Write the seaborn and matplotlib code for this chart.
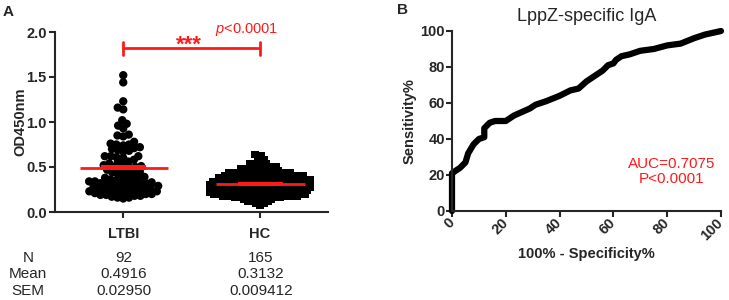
import numpy as np
import pandas as pd
import seaborn as sns
import matplotlib.pyplot as plt

# ---- data ----
groups = ['LTBI', 'HC']
ltbi = [1.52, 1.44, 1.23, 1.16, 1.14, 1.02, 0.98, 0.96, 0.93, 0.86,
        0.85, 0.84, 0.78, 0.76, 0.75, 0.75, 0.74, 0.72, 0.71, 0.70,
        0.69, 0.68, 0.67, 0.62, 0.61, 0.60, 0.58, 0.56, 0.62, 0.62,
        0.55, 0.54, 0.53, 0.52, 0.51, 0.50, 0.50, 0.49, 0.48, 0.47,
        0.46, 0.45, 0.44, 0.43, 0.42, 0.41, 0.40, 0.39, 0.38, 0.37,
        0.36, 0.36, 0.35, 0.35, 0.34, 0.34, 0.33, 0.33, 0.32, 0.32,
        0.31, 0.31, 0.30, 0.30, 0.29, 0.29, 0.28, 0.28, 0.27, 0.27,
        0.26, 0.26, 0.25, 0.25, 0.24, 0.24, 0.23, 0.23, 0.22, 0.22,
        0.21, 0.21, 0.20, 0.20, 0.19, 0.19, 0.18, 0.18, 0.17, 0.16,
        0.16, 0.15]
hc = [0.08,
      0.10, 0.10,
      0.12, 0.12, 0.12,
      0.14, 0.14, 0.14,
      0.16, 0.16, 0.16, 0.16, 0.16, 0.16, 0.16,
      0.18, 0.18, 0.18, 0.18, 0.18, 0.18, 0.18, 0.18, 0.18,
      0.20, 0.20, 0.20, 0.20, 0.20, 0.20, 0.20, 0.20, 0.20, 0.20,
      0.22, 0.22, 0.22, 0.22, 0.22, 0.22, 0.22, 0.22, 0.22, 0.22,
      0.24, 0.24, 0.24, 0.24, 0.24, 0.24, 0.24, 0.24, 0.24, 0.24,
      0.26, 0.26, 0.26, 0.26, 0.26, 0.26, 0.26, 0.26, 0.26, 0.26,
      0.28, 0.28, 0.28, 0.28, 0.28, 0.28, 0.28, 0.28, 0.28, 0.28,
      0.30, 0.30, 0.30, 0.30, 0.30, 0.30, 0.30, 0.30, 0.30, 0.30,
      0.32, 0.32, 0.32, 0.32, 0.32, 0.32, 0.32, 0.32, 0.32, 0.32,
      0.34, 0.34, 0.34, 0.34, 0.34, 0.34, 0.34, 0.34, 0.34, 0.34,
      0.36, 0.36, 0.36, 0.36, 0.36, 0.36, 0.36, 0.36, 0.36,
      0.38, 0.38, 0.38, 0.38, 0.38, 0.38, 0.38, 0.38, 0.38,
      0.40, 0.40, 0.40, 0.40, 0.40, 0.40, 0.40, 0.40,
      0.42, 0.42, 0.42, 0.42, 0.42, 0.42, 0.42,
      0.44, 0.44, 0.44, 0.44, 0.44, 0.44,
      0.46, 0.46, 0.46, 0.46, 0.46,
      0.48, 0.48, 0.48, 0.48,
      0.50, 0.50, 0.50,
      0.52, 0.52,
      0.54, 0.54,
      0.56, 0.58, 0.60, 0.62, 0.64]
n_vals = ['92', '165']
mean_vals = [0.4916, 0.3132]
mean_txt = ['0.4916', '0.3132']
sem_vals = [0.02950, 0.009412]
sem_txt = ['0.02950', '0.009412']

# ROC curve points (100% - specificity, sensitivity)
fpr = [0, 0, 1, 3, 5, 6, 8, 10, 12, 12, 14, 16, 20, 23, 26, 29, 31, 35, 40, 44,
       47, 50, 53, 56, 58, 60, 61, 63, 66, 70, 75, 80, 85, 90, 94, 97, 100]
tpr = [0, 21, 22, 24, 27, 32, 37, 40, 41, 46, 49, 50, 50, 53, 55, 57, 59, 61, 64, 67,
       68, 72, 75, 78, 81, 82, 84, 86, 87, 89, 90, 92, 93, 96, 98, 99, 100]

sns.set_style('ticks')
plt.rcParams['font.family'] = ['Liberation Sans', 'DejaVu Sans']
plt.rcParams['mathtext.fontset'] = 'custom'
plt.rcParams['mathtext.it'] = 'Liberation Sans:italic'
plt.rcParams['mathtext.rm'] = 'Liberation Sans'
RED = '#ff1a1a'

df = pd.DataFrame({'group': ['LTBI'] * len(ltbi) + ['HC'] * len(hc),
                   'od': ltbi + hc})

fig = plt.figure(figsize=(7.29, 3.0), dpi=100)

def px(x, y, w, h):
    return [x / 729, 1 - (y + h) / 300, w / 729, h / 300]

# ---- panel A ----
axA = fig.add_axes(px(55, 32, 273, 180))
axA.set_xlim(-0.5, 1.5)
axA.set_ylim(0, 2.0)
sns.swarmplot(data=df[df.group == 'LTBI'], x='group', y='od', order=groups,
              marker='o', color='black', size=4.0, linewidth=0, ax=axA)
sns.swarmplot(data=df[df.group == 'HC'], x='group', y='od', order=groups,
              marker='s', color='black', size=3.0, linewidth=0, ax=axA)
axA.set_xlim(-0.5, 1.5)
axA.set_ylim(0, 2.0)
# lay the swarm out with small markers, then freeze it and enlarge the markers
fig.canvas.draw()
for coll in axA.collections:
    n = len(coll.get_offsets())
    if n < 2:
        continue
    coll.__dict__.pop('draw', None)
    big = 6.0 if n == len(ltbi) else 5.6
    coll.set_sizes(np.full(n, big ** 2))

for i in range(2):
    half = max(sem_vals[i], 0.02)
    axA.hlines(mean_vals[i], i - 0.32, i + 0.33, color=RED, lw=2, zorder=5)
    axA.fill_between([i - 0.16, i + 0.17], mean_vals[i] - half,
                     mean_vals[i] + half, color=RED, lw=0, zorder=6)
axA.set_yticks([0, 0.5, 1.0, 1.5, 2.0])
axA.set_yticklabels(['0.0', '0.5', '1.0', '1.5', '2.0'])
axA.set_xlabel('')
axA.set_ylabel('OD450nm', fontsize=10.5, fontweight='bold', labelpad=-1)
axA.tick_params(labelsize=10.5, width=1.5, length=4, pad=2)
axA.tick_params(axis='x', pad=7)
for lab in axA.get_xticklabels() + axA.get_yticklabels():
    lab.set_fontweight('bold')
for s in ['left', 'bottom']:
    axA.spines[s].set_linewidth(1.5)
sns.despine(ax=axA)

# significance bracket
axA.plot([0, 1], [1.82, 1.82], color=RED, lw=2)
axA.plot([0, 0], [1.75, 1.89], color=RED, lw=2)
axA.plot([1, 1], [1.75, 1.89], color=RED, lw=2)
axA.text(0.48, 1.74, '***', color=RED, fontsize=16, fontweight='bold',
         ha='center', va='bottom')
axA.text(0.9, 1.93, r'$\it{p}$<0.0001', color=RED, fontsize=10.5,
         ha='center', va='bottom')

# stats table
rows = [('N', n_vals), ('Mean', mean_txt), ('SEM', sem_txt)]
for k, (name, vals) in enumerate(rows):
    y = 1 - (258 + 16.5 * k) / 300
    fig.text(28 / 729, y, name, fontsize=11, ha='center', va='center')
    for xpx, v in zip([124, 261], vals):
        fig.text(xpx / 729, y, v, fontsize=11, ha='center', va='center')

fig.text(3 / 729, 1 - 12 / 300, 'A', fontsize=11, fontweight='bold', va='center')
fig.text(397 / 729, 1 - 10 / 300, 'B', fontsize=11, fontweight='bold', va='center')

# ---- panel B ----
axB = fig.add_axes(px(452, 31, 269, 180))
roc = pd.DataFrame({'fpr': fpr, 'tpr': tpr})
sns.lineplot(data=roc, x='fpr', y='tpr', estimator=None, sort=False,
             color='black', lw=4.5, ax=axB, solid_capstyle='round',
             solid_joinstyle='round', clip_on=False)
axB.set_xlim(0, 100)
axB.set_ylim(0, 100)
axB.set_xticks([0, 20, 40, 60, 80, 100])
axB.set_yticks([0, 20, 40, 60, 80, 100])
axB.set_xlabel('100% - Specificity%', fontsize=10.5, fontweight='bold', labelpad=3)
axB.set_ylabel('Sensitivity%', fontsize=10.5, fontweight='bold', labelpad=3)
axB.set_title('LppZ-specific IgA', fontsize=13, pad=7)
axB.tick_params(labelsize=10.5, width=1.5, length=4, pad=1)
axB.tick_params(axis='x', pad=3)
plt.setp(axB.get_xticklabels(), rotation=45, ha='right', va='center',
         rotation_mode='anchor')
for lab in axB.get_xticklabels() + axB.get_yticklabels():
    lab.set_fontweight('bold')
for s in ['left', 'bottom']:
    axB.spines[s].set_linewidth(1.5)
sns.despine(ax=axB)
axB.text(81.5, 22, 'AUC=0.7075\nP<0.0001', color=RED, fontsize=11,
         ha='center', va='center', linespacing=1.1)

fig.savefig('out.png', dpi=100)
